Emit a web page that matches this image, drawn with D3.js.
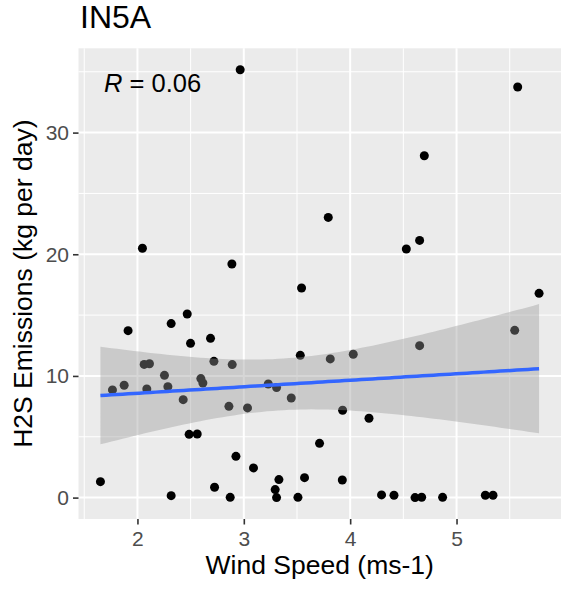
<!DOCTYPE html>
<html>
<head>
<meta charset="utf-8">
<script src="https://cdn.jsdelivr.net/npm/d3@7"></script>
<style>
  body { margin: 0; background: #fff; }
  svg { display: block; font-family: "Liberation Sans", Arial, sans-serif; }
</style>
</head>
<body>
<div id="chart"></div>
<script>
// Wind speed (ms-1) and H2S emissions (kg per day)
const windSpeed = [
  1.652, 1.765, 1.875, 1.912, 2.047, 2.063, 2.113, 2.088, 2.254, 2.286,
  2.317, 2.317, 2.430, 2.468, 2.499, 2.486, 2.562, 2.596, 2.615, 2.687,
  2.719, 2.725, 2.860, 2.872, 2.888, 2.891, 2.926, 2.966, 3.035, 3.091,
  3.230, 3.295, 3.308, 3.308, 3.330, 3.446, 3.509, 3.531, 3.543, 3.571,
  3.712, 3.794, 3.813, 3.926, 3.929, 4.029, 4.177, 4.295, 4.412, 4.528,
  4.610, 4.653, 4.653, 4.672, 4.697, 4.869, 5.271, 5.343, 5.547, 5.575,
  5.776
];
const emissions = [
  1.31, 8.85, 9.23, 13.72, 20.49, 10.95, 11.00, 8.93, 10.05, 9.12,
  14.30, 0.16, 8.05, 15.09, 12.68, 5.20, 5.23, 9.78, 9.42, 13.09,
  11.20, 0.85, 7.50, 0.02, 19.20, 10.93, 3.39, 35.17, 7.37, 2.44,
  9.34, 0.66, 0.00, 9.04, 1.48, 8.19, 0.02, 11.69, 17.23, 1.64,
  4.46, 23.03, 11.40, 1.45, 7.18, 11.78, 6.52, 0.22, 0.19, 20.43,
  0.00, 21.14, 12.49, 0.03, 28.10, 0.02, 0.19, 0.19, 13.75, 33.75,
  16.79
];
const xTicks = [2, 3, 4, 5];
const yTicks = [0, 10, 20, 30];
const xMinor = [1.5, 2.5, 3.5, 4.5, 5.5];
const yMinor = [5, 15, 25, 35];
const titleText = "IN5A";
const corrValue = "0.06";

const points = windSpeed.map((w, i) => ({ x: w, y: emissions[i] }));

const W = 567, H = 589;
const panel = { left: 78.5, right: 561, top: 48.3, bottom: 519 };

const svg = d3.select("#chart").append("svg")
  .attr("width", W).attr("height", H);

// ggplot-style 5% expansion of the data range
const xExt = d3.extent(windSpeed), yExt = d3.extent(emissions);
const xPad = (xExt[1] - xExt[0]) * 0.05, yPad = (yExt[1] - yExt[0]) * 0.05;

const x = d3.scaleLinear()
  .domain([xExt[0] - xPad, xExt[1] + xPad])
  .range([panel.left, panel.right]);
const y = d3.scaleLinear()
  .domain([yExt[0] - yPad, yExt[1] + yPad])
  .range([panel.bottom, panel.top]);

// panel background + grid
svg.append("rect")
  .attr("x", panel.left).attr("y", panel.top)
  .attr("width", panel.right - panel.left)
  .attr("height", panel.bottom - panel.top)
  .attr("fill", "#EBEBEB");

const grid = svg.append("g");
grid.selectAll(".xminor").data(xMinor).enter().append("line")
  .attr("x1", d => x(d)).attr("x2", d => x(d))
  .attr("y1", panel.top).attr("y2", panel.bottom)
  .attr("stroke", "#fff").attr("stroke-width", 1);
grid.selectAll(".yminor").data(yMinor).enter().append("line")
  .attr("y1", d => y(d)).attr("y2", d => y(d))
  .attr("x1", panel.left).attr("x2", panel.right)
  .attr("stroke", "#fff").attr("stroke-width", 1);
grid.selectAll(".xmajor").data(xTicks).enter().append("line")
  .attr("x1", d => x(d)).attr("x2", d => x(d))
  .attr("y1", panel.top).attr("y2", panel.bottom)
  .attr("stroke", "#fff").attr("stroke-width", 2);
grid.selectAll(".ymajor").data(yTicks).enter().append("line")
  .attr("y1", d => y(d)).attr("y2", d => y(d))
  .attr("x1", panel.left).attr("x2", panel.right)
  .attr("stroke", "#fff").attr("stroke-width", 2);

// points
svg.append("g").selectAll("circle")
  .data(points).enter().append("circle")
  .attr("cx", d => x(d.x)).attr("cy", d => y(d.y))
  .attr("r", 4.5).attr("fill", "#000");

// linear fit with 95% confidence band (like geom_smooth(method = "lm"))
const n = points.length;
const mx = d3.mean(windSpeed), my = d3.mean(emissions);
const sxx = d3.sum(windSpeed, v => (v - mx) ** 2);
const sxy = d3.sum(points, p => (p.x - mx) * (p.y - my));
const slope = sxy / sxx, intercept = my - slope * mx;
const rss = d3.sum(points, p => (p.y - intercept - slope * p.x) ** 2);
const sigma = Math.sqrt(rss / (n - 2));
const tCrit = 2.001; // qt(0.975, 59)

const fit = d3.range(80).map(i => {
  const xv = xExt[0] + (xExt[1] - xExt[0]) * i / 79;
  const yv = intercept + slope * xv;
  const se = sigma * Math.sqrt(1 / n + (xv - mx) ** 2 / sxx);
  return { x: xv, y: yv, lo: yv - tCrit * se, hi: yv + tCrit * se };
});

svg.append("path")
  .datum(fit)
  .attr("d", d3.area().x(d => x(d.x)).y0(d => y(d.lo)).y1(d => y(d.hi)))
  .attr("fill", "#999999").attr("fill-opacity", 0.4);

svg.append("path")
  .datum(fit)
  .attr("d", d3.line().x(d => x(d.x)).y(d => y(d.y)))
  .attr("fill", "none").attr("stroke", "#3366FF").attr("stroke-width", 3.5);

// axes
const xAxis = svg.append("g")
  .attr("transform", `translate(0,${panel.bottom})`)
  .call(d3.axisBottom(x).tickValues(xTicks).tickFormat(d3.format("d"))
    .tickSize(5.5).tickPadding(4));
const yAxis = svg.append("g")
  .attr("transform", `translate(${panel.left},0)`)
  .call(d3.axisLeft(y).tickValues(yTicks).tickFormat(d3.format("d"))
    .tickSize(5.5).tickPadding(4));
[xAxis, yAxis].forEach(a => {
  a.select(".domain").remove();
  a.selectAll(".tick line").attr("stroke", "#333333").attr("stroke-width", 1.6);
  a.selectAll(".tick text")
    .attr("fill", "#4D4D4D")
    .style("font-size", "21px")
    .style("font-family", "'Liberation Sans', Arial, sans-serif");
});
xAxis.selectAll(".tick text").attr("dy", "0.85em");

// axis titles
svg.append("text")
  .attr("x", (panel.left + panel.right) / 2).attr("y", 574)
  .attr("text-anchor", "middle")
  .style("font-size", "26.5px")
  .text("Wind Speed (ms-1)");

svg.append("text")
  .attr("transform", `translate(32,${(panel.top + panel.bottom) / 2}) rotate(-90)`)
  .attr("text-anchor", "middle")
  .style("font-size", "26.5px")
  .text("H2S Emissions (kg per day)");

// plot title
svg.append("text")
  .attr("x", 80).attr("y", 28)
  .style("font-size", "32px")
  .text(titleText);

// correlation label
const corr = svg.append("text")
  .attr("x", 104).attr("y", 91.5)
  .style("font-size", "25.5px");
corr.append("tspan").style("font-style", "italic").text("R");
corr.append("tspan").text(" = " + corrValue);
</script>
</body>
</html>
